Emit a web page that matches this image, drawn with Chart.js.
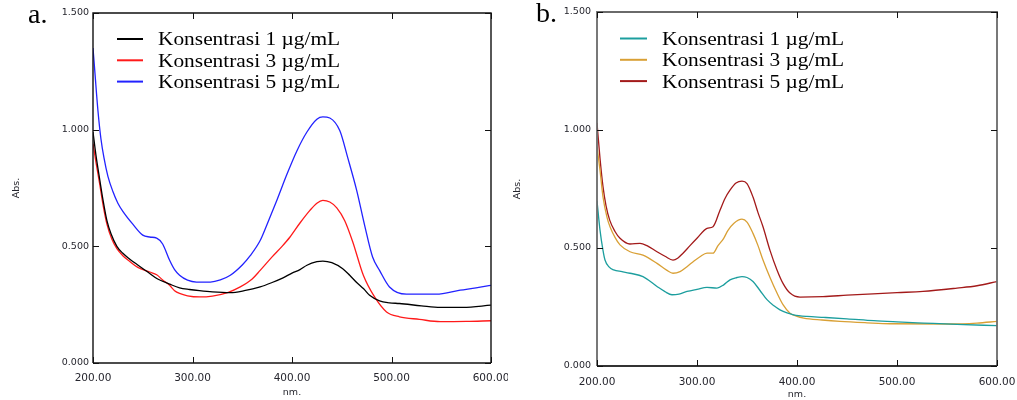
<!DOCTYPE html>
<html><head><meta charset="utf-8">
<script src="https://cdn.jsdelivr.net/npm/chart.js@4.4.1/dist/chart.umd.min.js"></script>
<style>
html,body{margin:0;padding:0;background:#fff;}
#wa{position:absolute;left:0;top:0;width:508px;height:400px;}
#wb{position:absolute;left:508px;top:0;width:509px;height:400px;}
</style></head>
<body>
<div id="wa"><canvas id="ca" width="508" height="400"></canvas></div>
<div id="wb"><canvas id="cb" width="509" height="400"></canvas></div>
<script>
// ---- data (wavelength nm, absorbance) ----
const xTicks = [200, 300, 400, 500, 600];
const yTicks = [0, 0.5, 1.0, 1.5];

const aLabels = ['Konsentrasi 1 µg/mL', 'Konsentrasi 3 µg/mL', 'Konsentrasi 5 µg/mL'];
const bLabels = ['Konsentrasi 1 µg/mL', 'Konsentrasi 3 µg/mL', 'Konsentrasi 5 µg/mL'];

const a1nm = [200,203,207,210,214,218,224,230,237,245,255,265,277,287,297,307,320,338,352,368,380,391,400,408,415,425,431,440,451,458,465,472,478,488,498,508,530,549,572,600];
const a1abs = [0.99,0.89,0.78,0.70,0.61,0.555,0.50,0.47,0.445,0.42,0.39,0.36,0.338,0.322,0.315,0.310,0.305,0.302,0.310,0.326,0.345,0.365,0.385,0.40,0.419,0.434,0.437,0.43,0.404,0.376,0.345,0.318,0.29,0.266,0.258,0.255,0.245,0.238,0.238,0.248];

const a3nm = [200,203,207,210,214,219,224,230,237,245,257,264,270,277,282,287,295,307,320,336,348,360,368,380,390,398,408,418,425,431,438,445,453,461,471.7,483,495,508,528,549,575,600];
const a3abs = [0.94,0.86,0.76,0.68,0.595,0.53,0.49,0.46,0.435,0.41,0.39,0.378,0.356,0.333,0.31,0.298,0.288,0.283,0.287,0.303,0.326,0.36,0.397,0.455,0.50,0.54,0.60,0.654,0.685,0.697,0.69,0.665,0.61,0.52,0.376,0.283,0.219,0.198,0.187,0.177,0.178,0.181];

const a5nm = [200,202,205,208,211,215,220,225,230,240,250,257,264,270,277,282,287,295,304,318,328,338,350,358,368,375,385,395,405,415,425,431,438,448,456,465,473,481,488,498,515,545,569,585,600];
const a5abs = [1.35,1.24,1.08,0.96,0.88,0.80,0.735,0.685,0.65,0.595,0.548,0.54,0.535,0.51,0.44,0.40,0.376,0.355,0.347,0.347,0.356,0.376,0.42,0.46,0.525,0.595,0.70,0.81,0.91,0.99,1.045,1.055,1.05,0.996,0.88,0.74,0.59,0.454,0.397,0.326,0.295,0.295,0.312,0.322,0.333];

const b1nm = [200,203,206,208,212,216.7,225,233,246,260,268,275,282,290,300,310,320,327,333,340,345,350,356,363,370,377,383,390,396.7,410,426.7,450,476.7,500,526.7,560,600];
const b1abs = [0.70,0.576,0.49,0.449,0.42,0.407,0.40,0.393,0.379,0.337,0.315,0.302,0.305,0.316,0.325,0.333,0.33,0.345,0.365,0.375,0.379,0.375,0.358,0.32,0.281,0.255,0.238,0.225,0.217,0.21,0.206,0.20,0.192,0.187,0.182,0.176,0.171];

const b3nm = [200,203,206,210,213,218,223,233,246,260,270,276,283,290,297,303,310,316,321,326.7,331,336.7,345,350,356,361,366,373,380,386,393,400,406.7,425,443,470,493,553,580,600];
const b3abs = [0.93,0.83,0.716,0.63,0.59,0.545,0.513,0.484,0.47,0.435,0.405,0.393,0.40,0.421,0.445,0.463,0.478,0.478,0.51,0.541,0.575,0.604,0.622,0.61,0.562,0.51,0.449,0.375,0.309,0.26,0.224,0.21,0.203,0.195,0.189,0.183,0.179,0.178,0.182,0.189];

const b5nm = [200,203,206,209,212.7,218,223,233,243,250,260,268,276,281,286,293,300,310,316,323,328,333,339,345,350,356,361,366,373,380,386,393,403,426,450,476,500,526,560,580,600];
const b5abs = [1.03,0.88,0.76,0.68,0.618,0.57,0.541,0.517,0.52,0.51,0.484,0.465,0.449,0.458,0.478,0.51,0.541,0.583,0.59,0.66,0.71,0.745,0.775,0.783,0.773,0.716,0.65,0.59,0.49,0.407,0.35,0.309,0.292,0.294,0.30,0.306,0.311,0.316,0.33,0.34,0.358];

const pts = (xs, ys) => xs.map((x, i) => ({x: x, y: ys[i]}));

const TICK_FONT = '"DejaVu Sans", Verdana, sans-serif';

function framePlugin(cfg) {
  return {
    id: 'frame',
    afterDraw(chart) {
      const ctx = chart.ctx, a = chart.chartArea;
      const xs = chart.scales.x, ys = chart.scales.y;
      ctx.save();
      ctx.lineWidth = cfg.frameWidth;
      ctx.strokeStyle = cfg.sideColor;
      ctx.beginPath();
      ctx.moveTo(a.left, a.bottom); ctx.lineTo(a.left, a.top); ctx.lineTo(a.right, a.top); ctx.lineTo(a.right, a.bottom);
      ctx.stroke();
      ctx.strokeStyle = cfg.bottomColor;
      ctx.beginPath(); ctx.moveTo(a.left, a.bottom); ctx.lineTo(a.right, a.bottom); ctx.stroke();
      // inward ticks on all four sides
      ctx.strokeStyle = '#111';
      ctx.lineWidth = 1;
      const L = 6;
      xTicks.forEach(v => {
        const p = Math.round(xs.getPixelForValue(v)) + 0.5;
        ctx.beginPath();
        ctx.moveTo(p, a.bottom); ctx.lineTo(p, a.bottom - L);
        ctx.moveTo(p, a.top); ctx.lineTo(p, a.top + L);
        ctx.stroke();
      });
      yTicks.forEach(v => {
        const p = Math.round(ys.getPixelForValue(v)) + 0.5;
        ctx.beginPath();
        ctx.moveTo(a.left, p); ctx.lineTo(a.left + L, p);
        ctx.moveTo(a.right, p); ctx.lineTo(a.right - L, p);
        ctx.stroke();
      });
      // panel letter
      ctx.fillStyle = '#000';
      ctx.font = '28px "Liberation Serif", "Times New Roman", serif';
      ctx.textBaseline = 'alphabetic';
      ctx.textAlign = 'left';
      ctx.fillText(cfg.letter, cfg.letterX, cfg.letterY);
      // legend
      ctx.font = '19px "Liberation Serif", "Times New Roman", serif';
      ctx.textBaseline = 'middle';
      chart.data.datasets.forEach((ds, i) => {
        const y = cfg.legY + i * cfg.legDy;
        ctx.strokeStyle = ds.borderColor;
        ctx.lineWidth = 2;
        ctx.beginPath();
        ctx.moveTo(a.left + cfg.legX0, y); ctx.lineTo(a.left + cfg.legX1, y);
        ctx.stroke();
        ctx.fillStyle = '#000';
        ctx.save();
        ctx.translate(a.left + cfg.legTx, y + 1.5);
        ctx.scale(1.125, 1);
        ctx.fillText(ds.label, 0, 0);
        ctx.restore();
      });
      ctx.restore();
    }
  };
}

function makeChart(id, datasets, cfg) {
  return new Chart(document.getElementById(id), {
    type: 'line',
    data: { datasets: datasets },
    options: {
      responsive: false,
      animation: false,
      devicePixelRatio: 1,
      layout: { padding: { left: 0, top: cfg.padTop, right: cfg.padRight, bottom: 0 } },
      plugins: { legend: { display: false }, tooltip: { enabled: false } },
      elements: { point: { radius: 0 }, line: { borderWidth: 1.3, cubicInterpolationMode: 'monotone' } },
      scales: {
        x: {
          type: 'linear', min: 200, max: 600,
          afterBuildTicks: s => { s.ticks = xTicks.map(v => ({ value: v })); },
          afterFit: s => { s.height = cfg.xHeight; s.paddingLeft = 0; s.paddingRight = 0; },
          grid: { display: false, drawTicks: false },
          border: { display: false },
          ticks: {
            autoSkip: false, maxRotation: 0, padding: cfg.xPad,
            color: '#26262e',
            font: { family: TICK_FONT, size: 10.5 },
            callback: v => Number(v).toFixed(2)
          },
          title: { display: true, text: 'nm.', color: '#26262e',
                   font: { family: TICK_FONT, size: 9.5 },
                   padding: { top: 0, bottom: cfg.xTitlePad } }
        },
        y: {
          type: 'linear', min: 0, max: 1.5,
          afterBuildTicks: s => { s.ticks = yTicks.map(v => ({ value: v })); },
          afterFit: s => { s.width = cfg.yWidth; s.paddingTop = 0; s.paddingBottom = 0; },
          grid: { display: false, drawTicks: false },
          border: { display: false },
          ticks: {
            autoSkip: false, padding: cfg.yPad,
            color: '#26262e',
            font: { family: TICK_FONT, size: 9.5 },
            callback: v => Number(v).toFixed(3)
          },
          title: { display: true, text: 'Abs.', color: '#26262e',
                   font: { family: TICK_FONT, size: 9.5 },
                   padding: { top: cfg.yTitlePad, bottom: 0 } }
        }
      }
    },
    plugins: [framePlugin(cfg)]
  });
}

makeChart('ca', [
  { label: aLabels[0], data: pts(a1nm, a1abs), borderColor: '#000000' },
  { label: aLabels[1], data: pts(a3nm, a3abs), borderColor: '#ff1a1a' },
  { label: aLabels[2], data: pts(a5nm, a5abs), borderColor: '#2222ff' }
], {
  padTop: 13, padRight: 17, xHeight: 37, yWidth: 93, xPad: 9, yPad: 4,
  xTitlePad: 2, yTitlePad: 11,
  frameWidth: 1.4, sideColor: '#111', bottomColor: '#111',
  letter: 'a.', letterX: 28, letterY: 23,
  legY: 39, legDy: 21.3, legX0: 24, legX1: 50, legTx: 65
});

makeChart('cb', [
  { label: bLabels[0], data: pts(b1nm, b1abs), borderColor: '#1c9e9e' },
  { label: bLabels[1], data: pts(b3nm, b3abs), borderColor: '#d9a035' },
  { label: bLabels[2], data: pts(b5nm, b5abs), borderColor: '#a31a1a' }
], {
  padTop: 12, padRight: 20, xHeight: 34, yWidth: 89, xPad: 9.5, yPad: 6,
  xTitlePad: 0, yTitlePad: 4,
  frameWidth: 1.8, sideColor: '#6a6a6a', bottomColor: '#333',
  letter: 'b.', letterX: 28, letterY: 22,
  legY: 38.5, legDy: 21.3, legX0: 23, legX1: 50, legTx: 65
});
</script>
</body></html>
